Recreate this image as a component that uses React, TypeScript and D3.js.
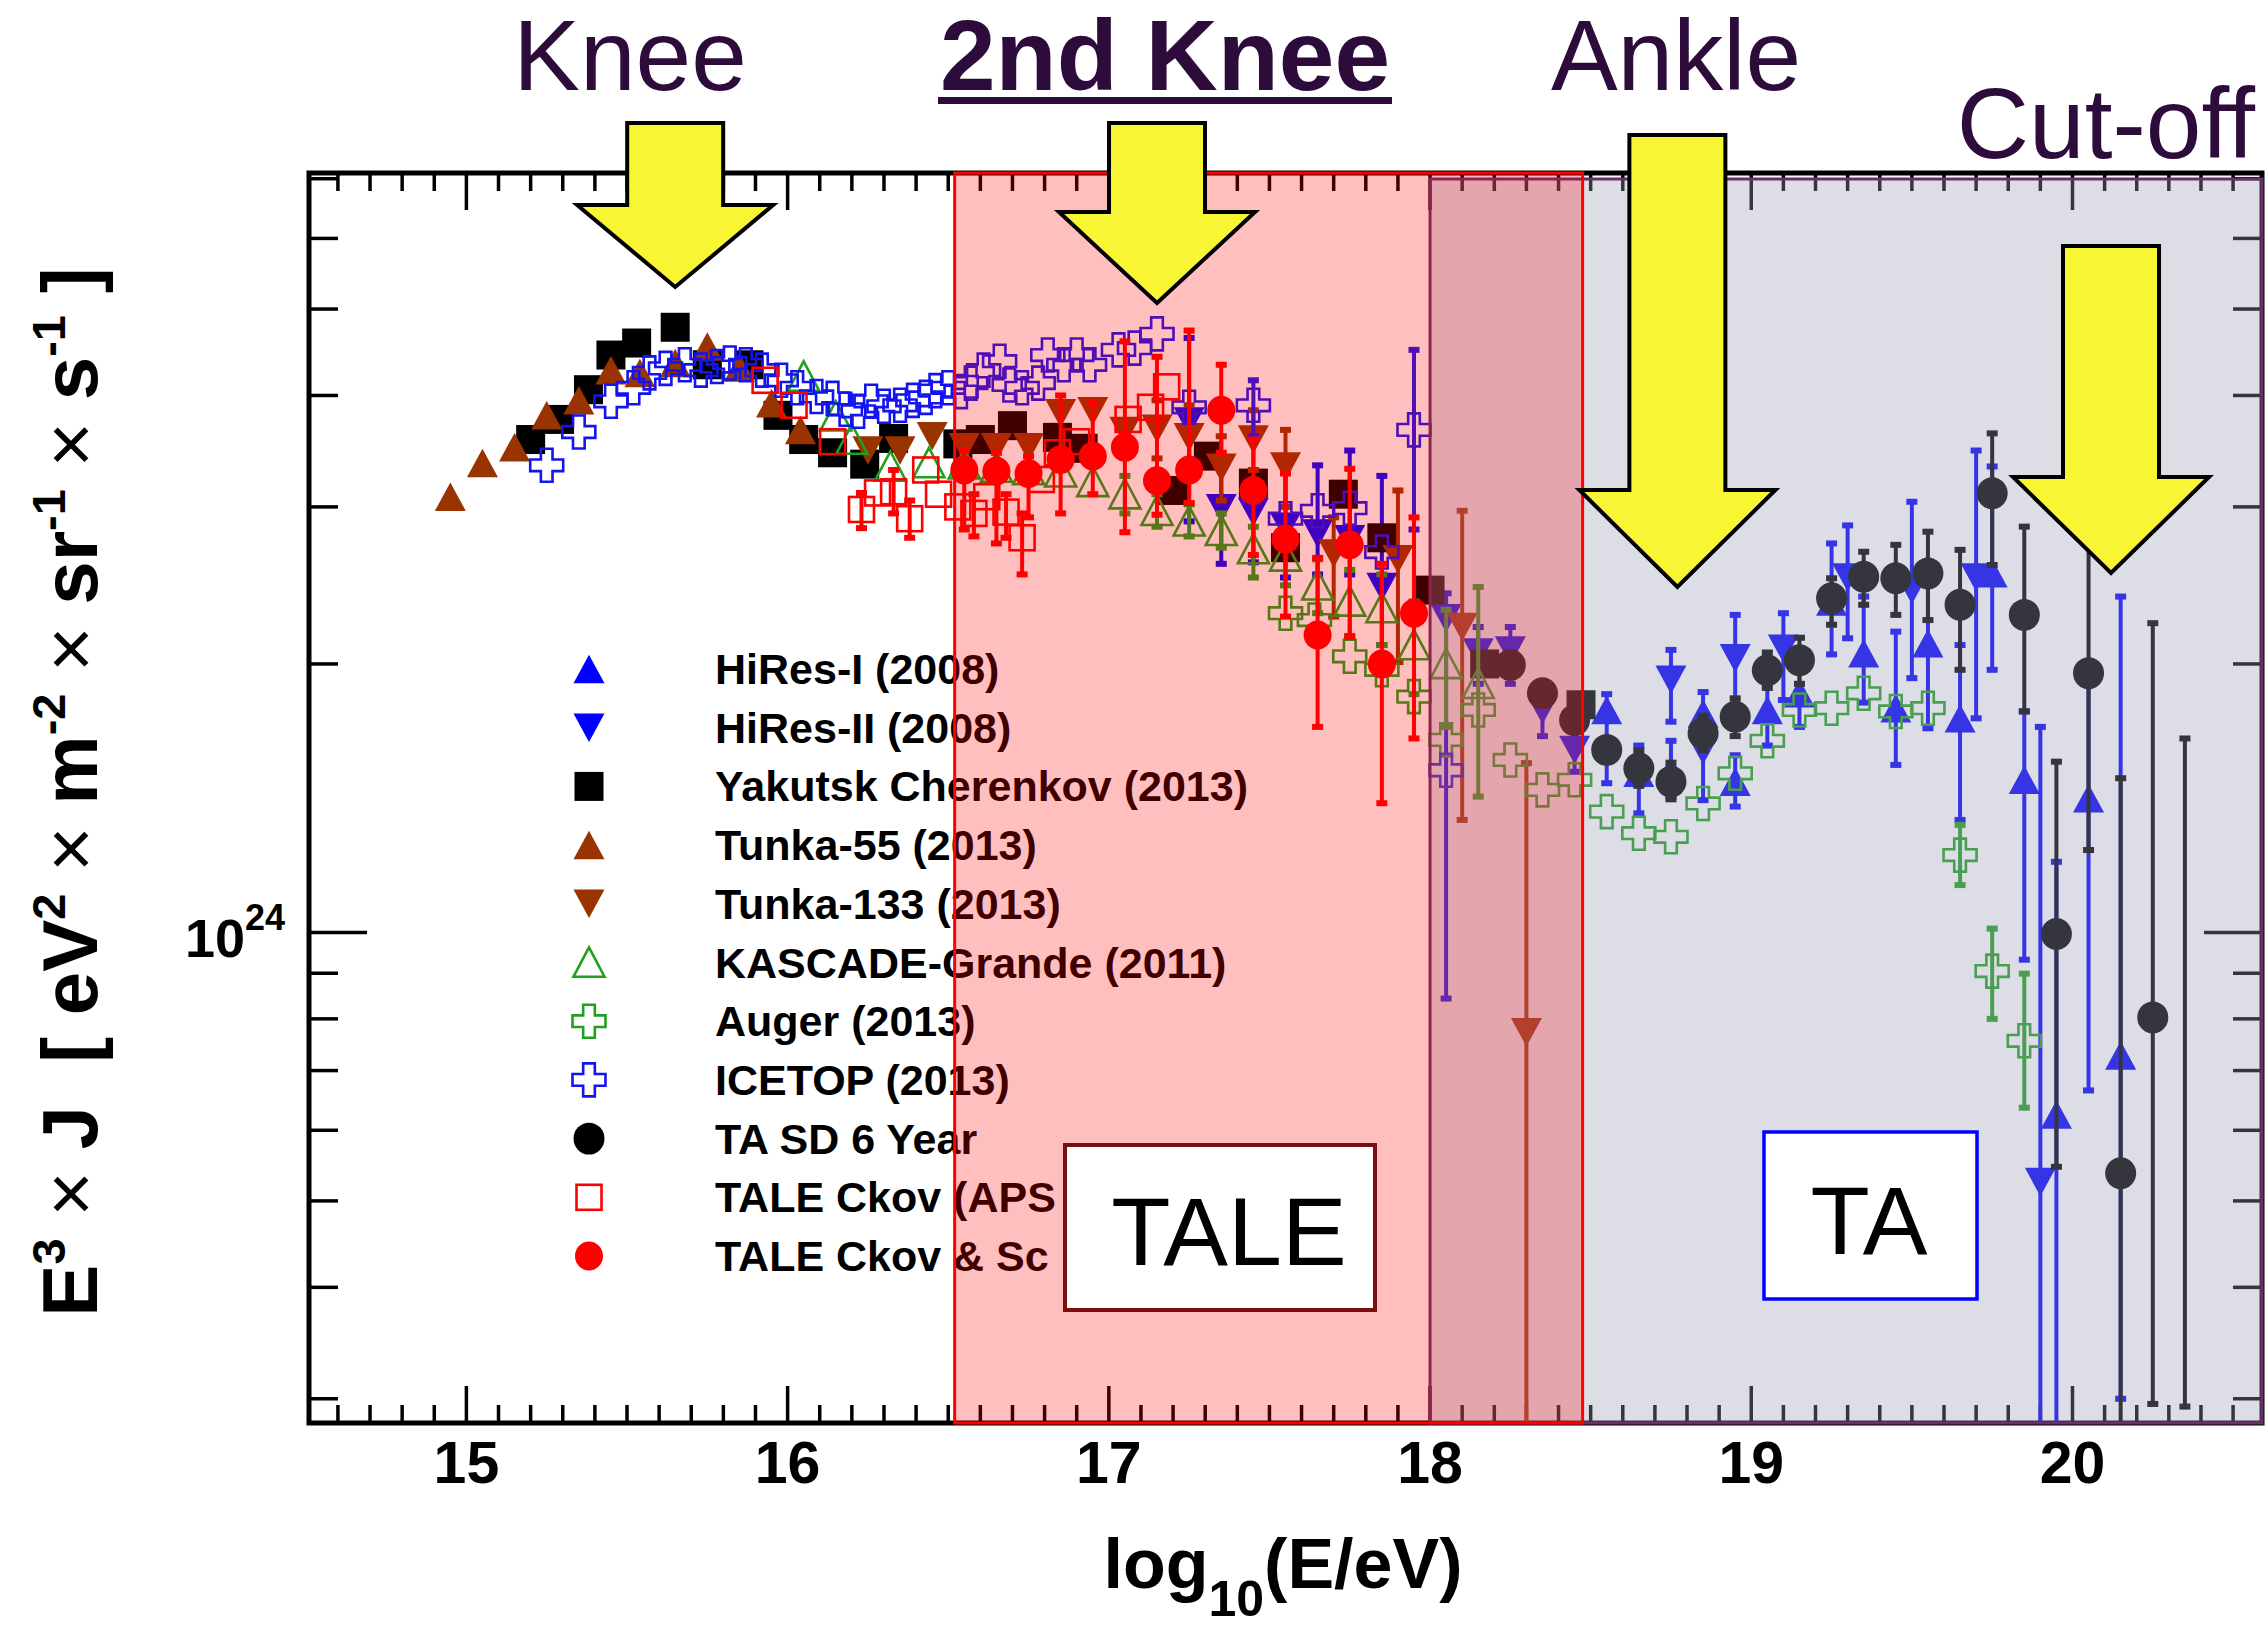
import React from "react";
import * as d3 from "d3";

// Each point: [log10(E/eV), E^3 J in units of 1e24 eV^2 m^-2 sr^-1 s^-1, upper, lower]
type Pt = [number, number, number?, number?];

const hiresI: Pt[] = [
  [18.55, 1.776, 1.85, 1.47], [18.65, 1.51, 1.62, 1.36], [18.75, 1.52, 1.64, 1.42],
  [18.85, 1.76, 1.86, 1.66], [18.95, 1.476, 1.58, 1.384], [19.05, 1.776, 1.95, 1.62],
  [19.15, 1.854, 2.0, 1.7], [19.25, 2.35, 2.73, 2.05], [19.35, 2.056, 2.38, 1.81],
  [19.45, 1.784, 2.174, 1.541], [19.55, 2.11, 2.45, 1.694], [19.65, 1.738, 2.1, 1.337],
  [19.75, 2.527, 3.33, 1.97], [19.85, 1.483, 1.77, 0.932], [19.95, 0.625, 1.2, 0.2],
  [20.05, 1.414, 2.0, 0.665], [20.15, 0.728, 2.38, 0.3],
];

const hiresII: Pt[] = [
  [17.25, 3.74, 4.64, 2.89], [17.35, 2.99, 3.4, 2.59], [17.45, 2.96, 3.3, 2.6],
  [17.55, 2.85, 3.3, 2.5], [17.65, 2.8, 3.34, 2.52], [17.75, 2.76, 3.47, 2.52],
  [17.85, 2.44, 3.25, 2.1], [18.05, 2.25, 2.4, 0.843], [18.15, 2.06, 2.2, 1.9],
  [18.25, 2.07, 2.2, 1.9], [18.35, 1.776, 1.9, 1.66], [18.45, 1.602, 1.7, 1.514],
  [18.75, 1.92, 2.074, 1.723], [18.85, 1.6, 1.7, 1.407], [18.95, 2.03, 2.27, 1.8],
  [19.1, 2.08, 2.28, 1.822], [19.3, 2.5, 2.86, 2.137], [19.5, 2.42, 3.04, 1.928],
  [19.7, 2.5, 3.47, 1.738], [19.9, 0.525, 1.7, 0.2],
];

const yakutsk: Pt[] = [
  [15.2, 3.57], [15.29, 3.76], [15.38, 4.06], [15.45, 4.44], [15.53, 4.58], [15.65, 4.77],
  [15.75, 4.33], [15.88, 4.33], [15.97, 3.8], [16.05, 3.57], [16.14, 3.45], [16.24, 3.35],
  [16.33, 3.58], [16.53, 3.53], [16.6, 3.57], [16.7, 3.7], [16.84, 3.59], [16.92, 3.49],
  [17.2, 3.13], [17.31, 3.42], [17.45, 3.19], [17.55, 2.7], [17.73, 3.1], [17.85, 2.77],
  [18.0, 2.42], [18.17, 2.0], [18.47, 1.8],
];

const tunka55: Pt[] = [
  [14.95, 3.08], [15.05, 3.36], [15.15, 3.5], [15.25, 3.8], [15.35, 3.95], [15.45, 4.27],
  [15.54, 4.24], [15.65, 4.35], [15.75, 4.54], [15.85, 4.3], [15.95, 3.92], [16.04, 3.66],
];

const tunka133: Pt[] = [
  [16.25, 3.47], [16.35, 3.47], [16.45, 3.6], [16.55, 3.5], [16.65, 3.5], [16.75, 3.5],
  [16.85, 3.82], [16.95, 3.84], [17.05, 3.65], [17.15, 3.67, 3.95, 3.4], [17.25, 3.59, 3.9, 3.3],
  [17.35, 3.32, 3.6, 3.05], [17.45, 3.57, 3.85, 3.3], [17.55, 3.33, 3.66, 3.0],
  [17.7, 2.66, 2.92, 2.26], [17.9, 2.62, 3.13, 2.01], [18.1, 2.2, 2.97, 1.337], [18.3, 0.773, 1.548, 0.2],
];

const kascade: Pt[] = [
  [16.05, 4.2], [16.15, 3.79], [16.2, 3.57], [16.32, 3.33], [16.44, 3.36], [16.55, 3.35],
  [16.65, 3.32], [16.75, 3.3], [16.85, 3.28], [16.95, 3.2], [17.05, 3.1, 3.25, 2.95],
  [17.15, 2.97, 3.1, 2.85], [17.25, 2.89, 3.02, 2.78], [17.35, 2.82, 2.95, 2.7],
  [17.45, 2.69, 2.85, 2.5], [17.55, 2.64, 2.8, 2.45], [17.65, 2.45, 2.62, 2.28],
  [17.75, 2.35, 2.55, 2.15], [17.85, 2.31, 2.52, 2.1], [17.95, 2.1, 2.35, 1.85],
  [18.05, 2.0, 2.3, 1.7], [18.15, 1.9, 2.44, 1.42],
];

const auger: Pt[] = [
  [17.55, 2.28], [17.64, 2.24], [17.75, 2.04], [17.85, 1.97], [17.95, 1.838], [18.05, 1.644],
  [18.15, 1.776], [18.25, 1.561], [18.35, 1.445], [18.45, 1.483], [18.55, 1.366], [18.65, 1.292],
  [18.75, 1.28], [18.85, 1.395], [18.95, 1.508], [19.05, 1.64], [19.15, 1.776], [19.25, 1.784],
  [19.35, 1.854], [19.45, 1.769], [19.55, 1.784], [19.65, 1.221, 1.32, 1.13],
  [19.75, 0.905, 1.01, 0.8], [19.85, 0.756, 0.899, 0.636],
];

const icetop: Pt[] = [
  [15.25, 3.34], [15.35, 3.64], [15.45, 3.94], [15.52, 4.08], [15.57, 4.24], [15.62, 4.29],
  [15.68, 4.33], [15.73, 4.27], [15.78, 4.31], [15.82, 4.35], [15.87, 4.33], [15.92, 4.27],
  [15.98, 4.16], [16.03, 4.08], [16.09, 3.99], [16.14, 3.97], [16.18, 3.86], [16.22, 3.84],
  [16.26, 3.94], [16.3, 3.89], [16.35, 3.9], [16.39, 3.95], [16.43, 3.98], [16.46, 4.05],
  [16.5, 4.08], [16.54, 4.04], [16.57, 4.13], [16.61, 4.27], [16.66, 4.37], [16.69, 4.11],
  [16.73, 4.08], [16.78, 4.13], [16.81, 4.44], [16.86, 4.33], [16.9, 4.44], [16.94, 4.33],
  [17.03, 4.5], [17.08, 4.52], [17.15, 4.69], [17.25, 3.88], [17.45, 3.9, 4.16, 3.6],
  [17.55, 2.91], [17.65, 2.97], [17.75, 2.99], [17.85, 2.67], [17.95, 3.66, 4.5, 2.83],
  [18.05, 1.52],
];

const taSd: Pt[] = [
  [18.25, 1.995], [18.35, 1.854], [18.45, 1.73], [18.55, 1.602], [18.65, 1.528, 1.6, 1.46],
  [18.75, 1.476, 1.55, 1.41], [18.85, 1.672, 1.75, 1.6], [18.95, 1.745, 1.83, 1.66],
  [19.05, 1.968, 2.06, 1.88], [19.15, 2.02, 2.14, 1.9], [19.25, 2.37, 2.495, 2.213],
  [19.35, 2.505, 2.672, 2.33], [19.45, 2.495, 2.72, 2.27], [19.55, 2.527, 2.814, 2.24],
  [19.65, 2.33, 2.685, 1.97], [19.75, 3.108, 3.627, 2.582], [19.85, 2.27, 2.851, 1.769],
  [19.95, 0.996, 1.554, 0.546], [20.05, 1.953, 2.9, 1.237], [20.15, 0.537, 1.489, 0.2],
  [20.25, 0.803, 2.222, 0.296], [20.35, 0.2, 1.65, 0.294],
];

const taleCkov: Pt[] = [
  [15.93, 4.16], [16.02, 3.9], [16.14, 3.55], [16.23, 2.98, 3.11, 2.84], [16.28, 3.11],
  [16.33, 3.12, 3.3, 2.95], [16.38, 2.91, 3.05, 2.77], [16.43, 3.3], [16.47, 3.1], [16.53, 3.0],
  [16.58, 2.95, 3.1, 2.78], [16.62, 3.08], [16.68, 2.96, 3.1, 2.77], [16.73, 2.77, 2.95, 2.52],
  [16.79, 3.22], [16.84, 3.45], [16.9, 3.55], [17.06, 3.76], [17.13, 3.88], [17.18, 4.09],
];

const taleCkovSc: Pt[] = [
  [16.55, 3.3, 3.47, 2.83], [16.65, 3.29, 3.45, 2.73], [16.75, 3.27, 3.42, 2.92],
  [16.85, 3.39, 4.0, 2.95], [16.95, 3.42, 3.92, 3.1], [17.05, 3.5, 4.6, 2.81],
  [17.15, 3.21, 4.42, 2.94], [17.25, 3.3, 4.73, 3.03], [17.35, 3.85, 4.33, 3.45],
  [17.45, 3.13, 3.57, 2.65], [17.55, 2.76, 3.27, 2.26], [17.65, 2.155, 2.63, 1.7],
  [17.75, 2.72, 3.31, 2.145], [17.85, 2.0, 2.59, 1.396], [17.95, 2.28, 2.92, 1.65],
];

// Spectral features marked with arrows (log10 E/eV)
const featureNames = ["Knee", "2nd Knee", "Ankle", "Cut-off"];
const featureEnergies = [15.65, 17.15, 18.77, 20.12];

// Energy ranges of the two detectors (log10 E/eV)
const taleRange = [16.52, 18.475];
const taRange = [18.0, 20.59];

const xTickLabels = ["15", "16", "17", "18", "19", "20"];

type Shape = "tri" | "itri" | "square" | "circle" | "otri" | "cross" | "osquare";
interface Series { name: string; data: Pt[]; shape: Shape; color: string; size: number; }

const SERIES: Series[] = [
  { name: "HiRes-I (2008)", data: hiresI, shape: "tri", color: "#0000ff", size: 31 },
  { name: "HiRes-II (2008)", data: hiresII, shape: "itri", color: "#0000ff", size: 31 },
  { name: "Yakutsk Cherenkov (2013)", data: yakutsk, shape: "square", color: "#000000", size: 29 },
  { name: "Tunka-55 (2013)", data: tunka55, shape: "tri", color: "#993300", size: 31 },
  { name: "Tunka-133 (2013)", data: tunka133, shape: "itri", color: "#993300", size: 31 },
  { name: "KASCADE-Grande (2011)", data: kascade, shape: "otri", color: "#1fa01f", size: 33 },
  { name: "Auger (2013)", data: auger, shape: "cross", color: "#1fa01f", size: 35 },
  { name: "ICETOP (2013)", data: icetop, shape: "cross", color: "#1414f0", size: 35 },
  { name: "TA SD 6 Year", data: taSd, shape: "circle", color: "#000000", size: 31 },
  { name: "TALE Ckov (APS", data: taleCkov, shape: "osquare", color: "#ff0000", size: 27 },
  { name: "TALE Ckov & Sc", data: taleCkovSc, shape: "circle", color: "#ff0000", size: 28 },
];

const W = 2268;
const H = 1627;
const X0 = 309, X1 = 2262, Y0 = 173, Y1 = 1423;
const FONT = "'Liberation Sans', Arial, Helvetica, sans-serif";
const LABEL_INK = "#2d0b3a";

const x = d3.scaleLinear().domain([14.51, 20.59]).range([X0, X1]);
const y = d3.scaleLog().domain([0.2818, 7.104]).range([Y1, Y0]);

function Marker({ shape, color, size, cx, cy }: { shape: Shape; color: string; size: number; cx: number; cy: number }) {
  const h = size / 2;
  const th = size * 0.46;
  switch (shape) {
    case "tri":
      return <path d={`M${cx},${cy - th}L${cx + h},${cy + th}L${cx - h},${cy + th}Z`} fill={color} />;
    case "itri":
      return <path d={`M${cx},${cy + th}L${cx + h},${cy - th}L${cx - h},${cy - th}Z`} fill={color} />;
    case "otri":
      return <path d={`M${cx},${cy - th}L${cx + h - 1},${cy + th - 1}L${cx - h + 1},${cy + th - 1}Z`} fill="none" stroke={color} strokeWidth={2.6} />;
    case "square":
      return <rect x={cx - h} y={cy - h} width={size} height={size} fill={color} />;
    case "osquare":
      return <rect x={cx - h + 1} y={cy - h + 1} width={size - 2} height={size - 2} fill="none" stroke={color} strokeWidth={2.6} />;
    case "circle":
      return <ellipse cx={cx} cy={cy} rx={h} ry={h * 1.03} fill={color} />;
    case "cross": {
      const a = size / 6;
      const s = h - 1;
      const d = `M${cx - a},${cy - s}H${cx + a}V${cy - a}H${cx + s}V${cy + a}H${cx + a}V${cy + s}H${cx - a}V${cy + a}H${cx - s}V${cy - a}H${cx - a}Z`;
      return <path d={d} fill="none" stroke={color} strokeWidth={2.6} />;
    }
  }
  return null;
}

function ErrorBar({ px, hi, lo, color }: { px: number; hi: number; lo: number; color: string }) {
  const yh = y(hi);
  const yl = y(lo);
  return (
    <g fill={color}>
      <line x1={px} x2={px} y1={yh} y2={yl} stroke={color} strokeWidth={4} />
      <rect x={px - 5.5} y={yh - 3} width={11} height={6} />
      <rect x={px - 5.5} y={yl - 3} width={11} height={6} />
    </g>
  );
}

function Arrow({ cx, top, base, tip }: { cx: number; top: number; base: number; tip: number }) {
  const sw = 48;
  const hw = 98;
  const d = `M${cx - sw},${top}H${cx + sw}V${base}H${cx + hw}L${cx},${tip}L${cx - hw},${base}H${cx - sw}Z`;
  return <path d={d} fill="#f8f535" stroke="#000" strokeWidth={4} strokeLinejoin="miter" />;
}

export default function App() {
  const xTicks = d3.range(146, 206).map((v) => v / 10);
  const yTicks = [0.3, 0.4, 0.5, 0.6, 0.7, 0.8, 0.9, 1, 2, 3, 4, 5, 6, 7];

  const arrowLayout = [
    { top: 123, base: 205, tip: 287 },
    { top: 123, base: 212, tip: 303 },
    { top: 135, base: 490, tip: 587 },
    { top: 246, base: 477, tip: 573 },
  ];
  const labelLayout = [
    { x: 630, y: 90, bold: false },
    { x: 1165, y: 90, bold: true },
    { x: 1676, y: 90, bold: false },
    { x: 2106, y: 158, bold: false },
  ];

  const legendX = 589;
  const legendTextX = 715;
  const legendY0 = 669;
  const legendStep = 58.7;

  const taX = x(taRange[0]);
  const taleX0 = x(taleRange[0]);
  const taleX1 = x(taleRange[1]);

  return (
    <svg
      width={W}
      height={H}
      viewBox={`0 0 ${W} ${H}`}
      style={{ position: "absolute", left: 0, top: 0, background: "#fff" }}
      fontFamily={FONT}
    >
      <defs>
        <clipPath id="plotClip">
          <rect x={X0} y={Y0} width={X1 - X0} height={Y1 - Y0} />
        </clipPath>
      </defs>
      <rect width={W} height={H} fill="#fff" />

      {/* axis ticks, inside the frame on all four sides */}
      <g stroke="#000" strokeWidth={3.5}>
        {xTicks.map((t) => {
          const major = Math.abs(t - Math.round(t)) < 1e-6;
          const len = major ? 37 : 18;
          const px = x(t);
          return (
            <g key={`xt${t}`}>
              <line x1={px} x2={px} y1={Y1} y2={Y1 - len} />
              <line x1={px} x2={px} y1={Y0} y2={Y0 + len} />
            </g>
          );
        })}
        {yTicks.map((t) => {
          const len = t === 1 ? 58 : 29;
          const py = y(t);
          return (
            <g key={`yt${t}`}>
              <line x1={X0} x2={X0 + len} y1={py} y2={py} />
              <line x1={X1} x2={X1 - len} y1={py} y2={py} />
            </g>
          );
        })}
      </g>
      <rect x={X0} y={Y0} width={X1 - X0} height={Y1 - Y0} fill="none" stroke="#000" strokeWidth={5} />

      {/* tick labels */}
      <g fontSize={59} fontWeight="bold" textAnchor="middle" fill="#000">
        {xTickLabels.map((lab) => (
          <text key={lab} x={x(+lab)} y={1483}>{lab}</text>
        ))}
      </g>
      <text x={285} y={957} textAnchor="end" fontWeight="bold" fill="#000">
        <tspan fontSize={54}>10</tspan>
        <tspan fontSize={36} dy={-27}>24</tspan>
      </text>

      {/* axis titles */}
      <text x={1283} y={1588} textAnchor="middle" fontSize={70} fontWeight="bold" fill="#000">
        log<tspan fontSize={50} dy={28}>10</tspan><tspan dy={-28}>(E/eV)</tspan>
      </text>
      <text
        transform="translate(97,792) rotate(-90)"
        textAnchor="middle"
        fontSize={78}
        fontWeight="bold"
        fill="#000"
        style={{ whiteSpace: "pre" }}
      >
        <tspan>E</tspan>
        <tspan fontSize={47} dy={-32}>3</tspan>
        <tspan dy={32} fontWeight="normal">{" \u00d7 "}</tspan>
        <tspan>{"J  [ eV"}</tspan>
        <tspan fontSize={47} dy={-32}>2</tspan>
        <tspan dy={32} fontWeight="normal">{" \u00d7 "}</tspan>
        <tspan>m</tspan>
        <tspan fontSize={47} dy={-32}>-2</tspan>
        <tspan dy={32} fontWeight="normal">{" \u00d7 "}</tspan>
        <tspan>sr</tspan>
        <tspan fontSize={47} dy={-32}>-1</tspan>
        <tspan dy={32} fontWeight="normal">{" \u00d7 "}</tspan>
        <tspan>s</tspan>
        <tspan fontSize={47} dy={-32}>-1</tspan>
        <tspan dy={32}>{" ]"}</tspan>
      </text>

      {/* measurements */}
      <g clipPath="url(#plotClip)">
        {SERIES.map((s) => (
          <g key={s.name}>
            {s.data.map((p, i) =>
              p[2] !== undefined && p[3] !== undefined ? (
                <ErrorBar key={`e${i}`} px={x(p[0])} hi={p[2] as number} lo={p[3] as number} color={s.color} />
              ) : null
            )}
            {s.data.map((p, i) => (
              <Marker key={`m${i}`} shape={s.shape} color={s.color} size={s.size} cx={x(p[0])} cy={y(p[1])} />
            ))}
          </g>
        ))}
      </g>

      {/* legend */}
      <g>
        {SERIES.map((s, i) => {
          const ly = legendY0 + i * legendStep;
          return (
            <g key={`lg${s.name}`}>
              <Marker shape={s.shape} color={s.color} size={s.size} cx={legendX} cy={ly} />
              <text x={legendTextX} y={ly + 15} fontSize={43} fontWeight="bold" fill="#000">{s.name}</text>
            </g>
          );
        })}
      </g>

      {/* detector energy ranges */}
      <rect
        x={taX}
        y={179}
        width={X1 - taX}
        height={Y1 - 179}
        fill="rgb(154,154,181)"
        fillOpacity={0.34}
        stroke="#6a2f6a"
        strokeWidth={3}
      />
      <rect
        x={taleX0}
        y={Y0}
        width={taleX1 - taleX0}
        height={Y1 - Y0}
        fill="#ff0000"
        fillOpacity={0.25}
        stroke="#ff0000"
        strokeWidth={3}
      />

      {/* detector labels */}
      <rect x={1065} y={1145} width={310} height={165} fill="#fff" stroke="#7a1010" strokeWidth={4} />
      <text x={1229} y={1265} textAnchor="middle" fontSize={97} fill="#000">TALE</text>
      <rect x={1764} y={1132} width={213} height={167} fill="#fff" stroke="#0000ff" strokeWidth={3.5} />
      <text x={1869} y={1254} textAnchor="middle" fontSize={97} fill="#000">TA</text>

      {/* feature arrows and names */}
      {featureEnergies.map((e, i) => (
        <Arrow key={`ar${i}`} cx={x(e)} {...arrowLayout[i]} />
      ))}
      {featureNames.map((n, i) => (
        <text
          key={`fn${i}`}
          x={labelLayout[i].x}
          y={labelLayout[i].y}
          textAnchor="middle"
          fontSize={100}
          fontWeight={labelLayout[i].bold ? "bold" : "normal"}
          fill={LABEL_INK}
        >
          {n}
        </text>
      ))}
      <rect x={938} y={97} width={454} height={7} fill={LABEL_INK} />
    </svg>
  );
}
